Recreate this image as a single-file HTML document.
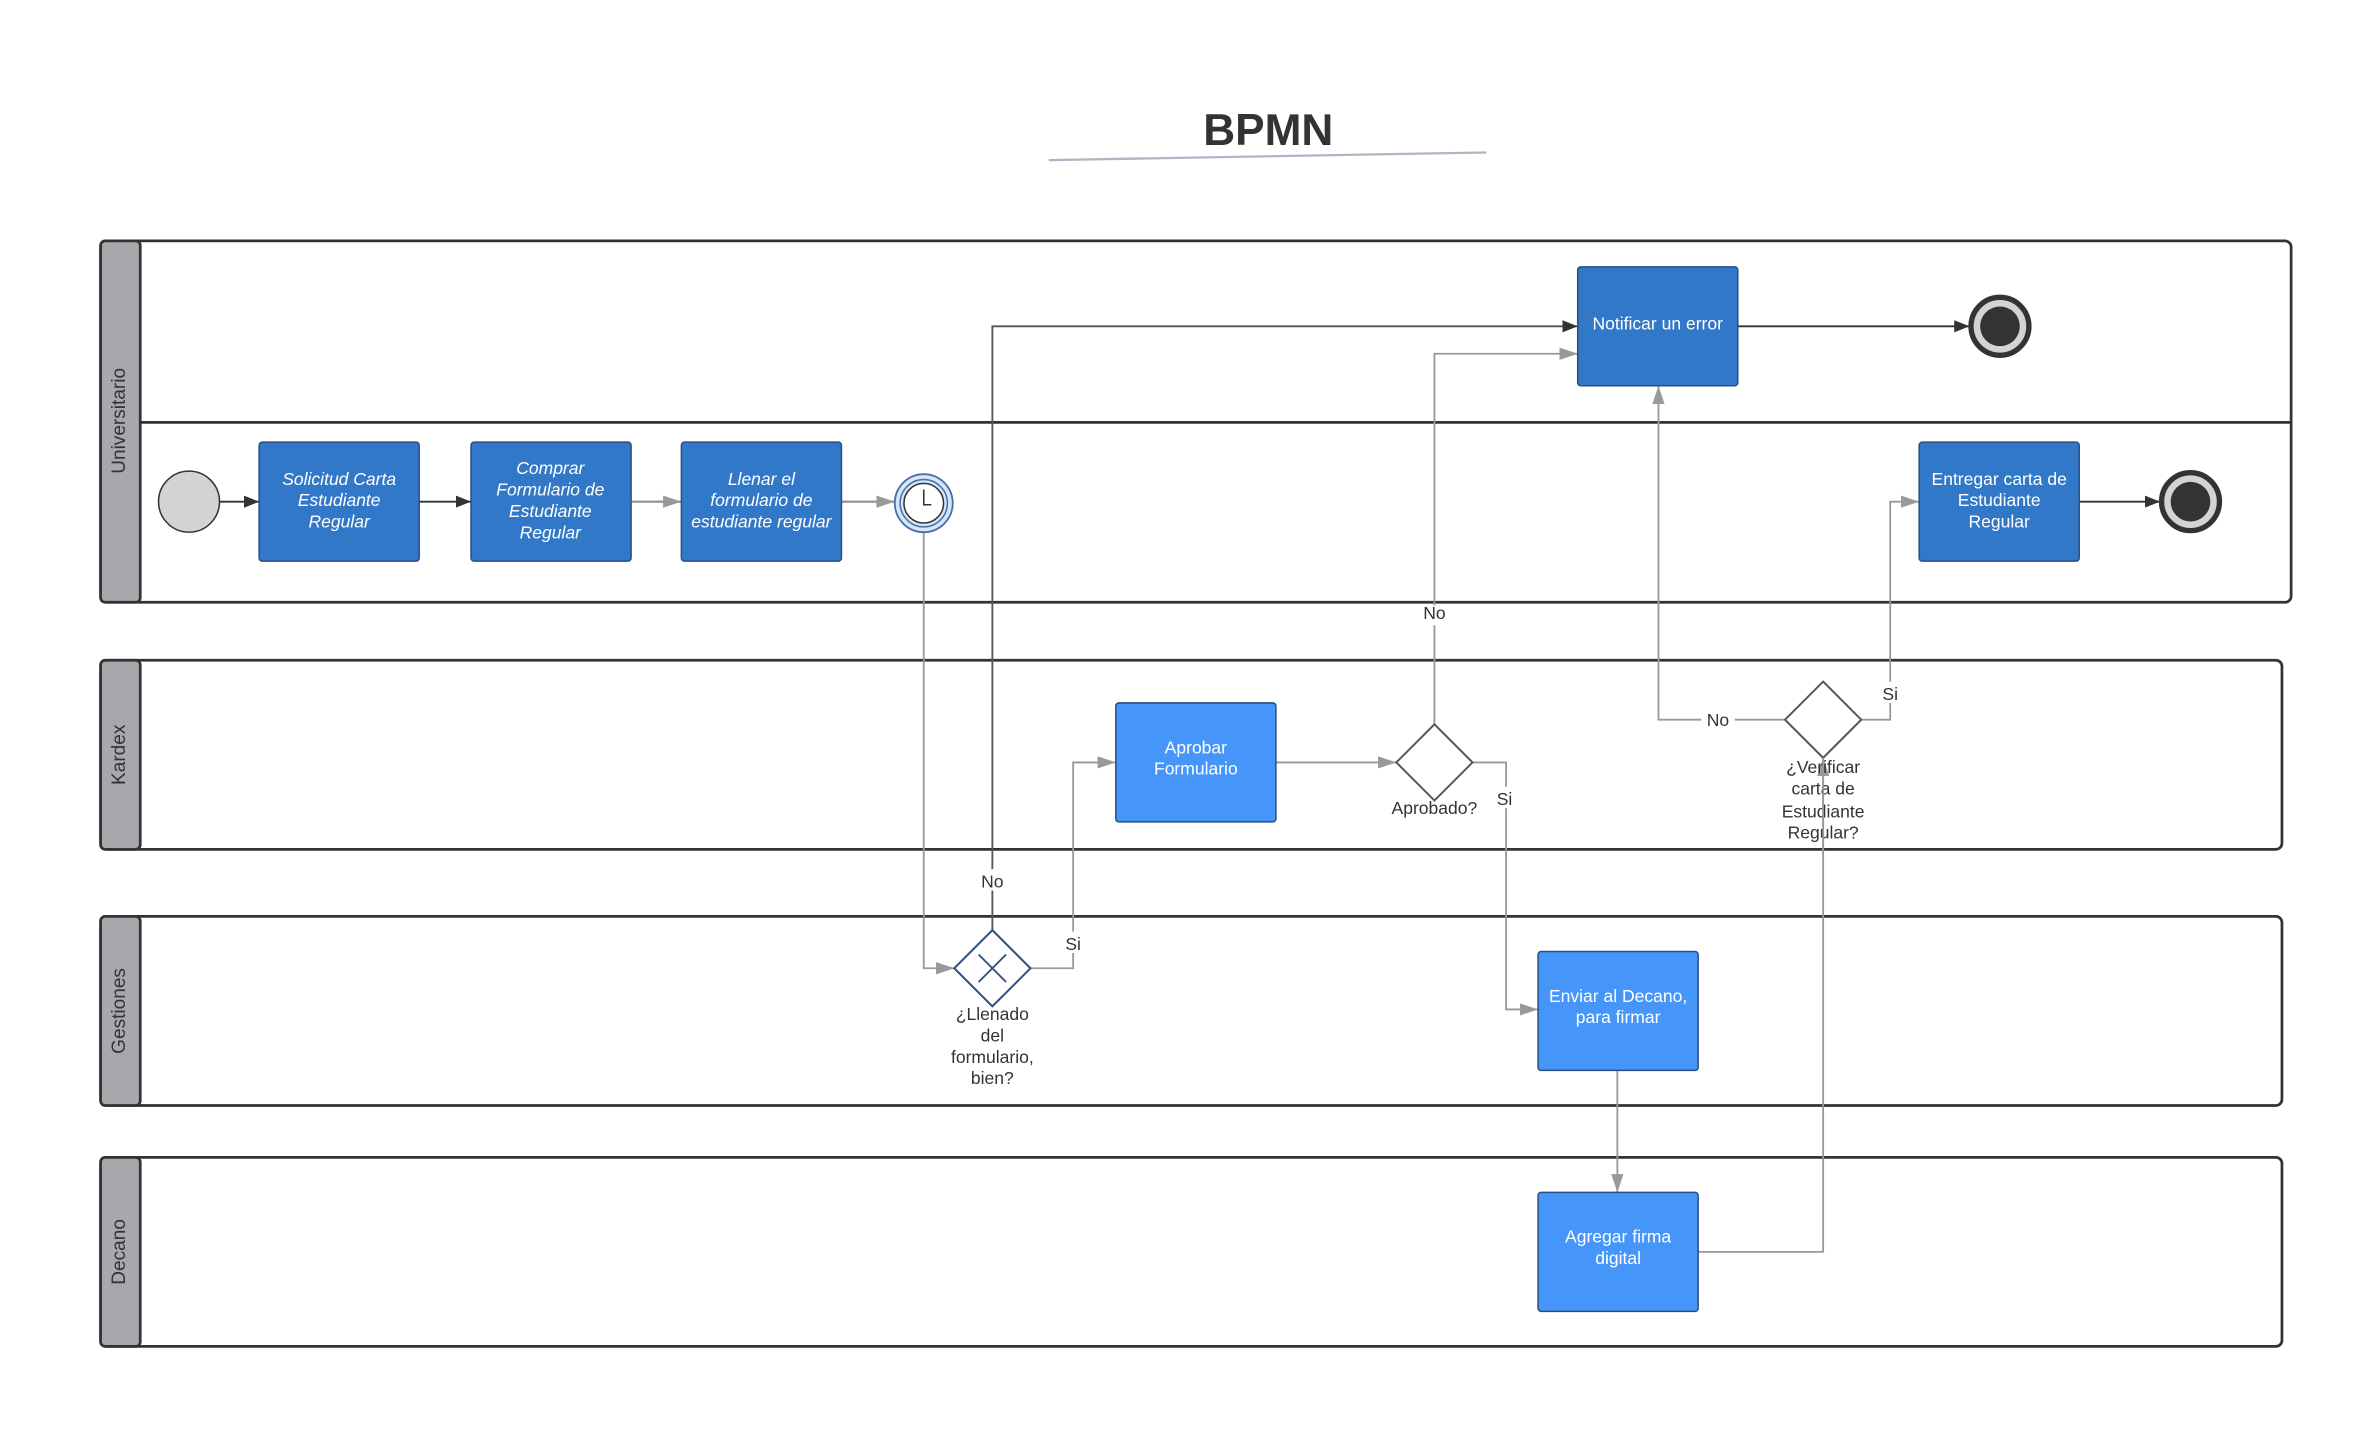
<!DOCTYPE html>
<html><head><meta charset="utf-8"><style>
html,body{margin:0;padding:0;background:#fff;width:2378px;height:1444px;overflow:hidden}
svg{display:block}
text{font-family:"Liberation Sans",sans-serif}
</style></head><body>
<svg width="2378" height="1444" viewBox="0 0 1560 947" preserveAspectRatio="none" xmlns="http://www.w3.org/2000/svg">
<defs>
<marker id="ab" markerWidth="10" markerHeight="8" refX="10" refY="4" orient="auto" markerUnits="userSpaceOnUse"><path d="M0,0 L10,4 L0,8 z" fill="#333"/></marker>
<marker id="ag" markerWidth="12" markerHeight="8" refX="12" refY="4" orient="auto" markerUnits="userSpaceOnUse"><path d="M0,0 L12,4 L0,8 z" fill="#999"/></marker>
</defs>
<text x="832" y="95" text-anchor="middle" font-size="29" font-weight="bold" fill="#333">BPMN</text>
<line x1="688" y1="105" x2="975" y2="100" stroke="#b0b4c4" stroke-width="1.5"/>

<g stroke="#333" stroke-width="1.8">
<rect x="66" y="158" width="1437" height="237" rx="4" fill="#fff"/>
<rect x="66" y="158" width="26" height="237" rx="3" fill="#a7a8ab"/>
<line x1="92" y1="277" x2="1503" y2="277"/>
<rect x="66" y="433" width="1431" height="124" rx="4" fill="#fff"/>
<rect x="66" y="433" width="26" height="124" rx="3" fill="#a7a8ab"/>
<rect x="66" y="601" width="1431" height="124" rx="4" fill="#fff"/>
<rect x="66" y="601" width="26" height="124" rx="3" fill="#a7a8ab"/>
<rect x="66" y="759" width="1431" height="124" rx="4" fill="#fff"/>
<rect x="66" y="759" width="26" height="124" rx="3" fill="#a7a8ab"/>
</g>
<g font-size="12.5" fill="#333" text-anchor="middle">
<text transform="translate(82,276) rotate(-90)">Universitario</text>
<text transform="translate(82,495) rotate(-90)">Kardex</text>
<text transform="translate(82,663) rotate(-90)">Gestiones</text>
<text transform="translate(82,821) rotate(-90)">Decano</text>
</g>

<g fill="none" stroke-width="1.2">
<line x1="144" y1="329" x2="170" y2="329" stroke="#333" marker-end="url(#ab)"/>
<line x1="275" y1="329" x2="309" y2="329" stroke="#333" marker-end="url(#ab)"/>
<line x1="414" y1="329" x2="447" y2="329" stroke="#999" stroke-width="1.6" marker-end="url(#ag)"/>
<line x1="552" y1="329" x2="587" y2="329" stroke="#999" stroke-width="1.6" marker-end="url(#ag)"/>
<path d="M606,349 V635 H626" stroke="#999" marker-end="url(#ag)"/>
<path d="M651,610 V214 H1035" stroke="#555" marker-end="url(#ab)"/>
<path d="M676,635 H704 V500 H732" stroke="#999" marker-end="url(#ag)"/>
<line x1="837" y1="500" x2="916" y2="500" stroke="#999" marker-end="url(#ag)"/>
<path d="M941,475 V232 H1035" stroke="#999" marker-end="url(#ag)"/>
<path d="M966,500 H988 V662 H1009" stroke="#999" marker-end="url(#ag)"/>
<line x1="1061" y1="702" x2="1061" y2="782" stroke="#999" marker-end="url(#ag)"/>
<path d="M1114,821 H1196 V497" stroke="#999" marker-end="url(#ag)"/>
<path d="M1171,472 H1088 V253" stroke="#999" marker-end="url(#ag)"/>
<path d="M1221,472 H1240 V329 H1259" stroke="#999" marker-end="url(#ag)"/>
<line x1="1140" y1="214" x2="1292" y2="214" stroke="#333" marker-end="url(#ab)"/>
<line x1="1364" y1="329" x2="1417" y2="329" stroke="#333" marker-end="url(#ab)"/>
</g>

<g font-size="11.5" fill="#333" text-anchor="middle">
<rect x="640" y="570" width="22" height="14" fill="#fff"/><text x="651" y="582">No</text>
<rect x="696" y="611" width="16" height="14" fill="#fff"/><text x="704" y="623">Si</text>
<rect x="930" y="397" width="22" height="13" fill="#fff"/><text x="941" y="406">No</text>
<rect x="980" y="516" width="16" height="14" fill="#fff"/><text x="987" y="528">Si</text>
<rect x="1116" y="464" width="22" height="14" fill="#fff"/><text x="1127" y="476">No</text>
<rect x="1232" y="447" width="16" height="14" fill="#fff"/><text x="1240" y="459">Si</text>
</g>

<circle cx="124" cy="329" r="20" fill="#d1d3d4" stroke="#333" stroke-width="1"/>
<circle cx="606" cy="330" r="19" fill="#d6e6fb" stroke="#4a6fa5" stroke-width="1.2"/>
<circle cx="606" cy="330" r="15.5" fill="none" stroke="#4a6fa5" stroke-width="1"/>
<circle cx="606" cy="330" r="13" fill="#fff" stroke="#333" stroke-width="1"/>
<path d="M606,321 V331 H611" fill="none" stroke="#333" stroke-width="1"/>
<circle cx="1312" cy="214" r="19" fill="#d1d3d4" stroke="#333" stroke-width="3.5"/>
<circle cx="1312" cy="214" r="13" fill="#333"/>
<circle cx="1437" cy="329" r="19" fill="#d1d3d4" stroke="#333" stroke-width="3.5"/>
<circle cx="1437" cy="329" r="13" fill="#333"/>

<g stroke="#2b4f80" stroke-width="1">
<rect x="170" y="290" width="105" height="78" rx="2" fill="#3278c8"/>
<rect x="309" y="290" width="105" height="78" rx="2" fill="#3278c8"/>
<rect x="447" y="290" width="105" height="78" rx="2" fill="#3278c8"/>
<rect x="1035" y="175" width="105" height="78" rx="2" fill="#3278c8"/>
<rect x="1259" y="290" width="105" height="78" rx="2" fill="#3278c8"/>
<rect x="732" y="461" width="105" height="78" rx="2" fill="#4596f8"/>
<rect x="1009" y="624" width="105" height="78" rx="2" fill="#4596f8"/>
<rect x="1009" y="782" width="105" height="78" rx="2" fill="#4596f8"/>
</g>
<g font-size="11.5" fill="#fff" text-anchor="middle">
<g font-style="italic">
<text x="222.5" y="318">Solicitud Carta</text><text x="222.5" y="332">Estudiante</text><text x="222.5" y="346">Regular</text>
<text x="361" y="311">Comprar</text><text x="361" y="325">Formulario de</text><text x="361" y="339">Estudiante</text><text x="361" y="353">Regular</text>
<text x="499.5" y="318">Llenar el</text><text x="499.5" y="332">formulario de</text><text x="499.5" y="346">estudiante regular</text>
</g>
<text x="1087.5" y="216">Notificar un error</text>
<text x="1311.5" y="318">Entregar carta de</text><text x="1311.5" y="332">Estudiante</text><text x="1311.5" y="346">Regular</text>
<text x="784.5" y="494">Aprobar</text><text x="784.5" y="508">Formulario</text>
<text x="1061.5" y="657">Enviar al Decano,</text><text x="1061.5" y="671">para firmar</text>
<text x="1061.5" y="815">Agregar firma</text><text x="1061.5" y="829">digital</text>
</g>

<g fill="#fff" stroke="#555" stroke-width="1.3">
<path d="M941,475 L966,500 L941,525 L916,500 z"/>
<path d="M1196,447 L1221,472 L1196,497 L1171,472 z"/>
</g>
<path d="M651,610 L676,635 L651,660 L626,635 z" fill="#fff" stroke="#2b4f80" stroke-width="1.3"/>
<path d="M642,626 L660,644 M660,626 L642,644" stroke="#2b4f80" stroke-width="1.2"/>
<g font-size="11.5" fill="#333" text-anchor="middle">
<text x="941" y="534">Aprobado?</text>
<text x="1196" y="507">¿Verificar</text><text x="1196" y="521">carta de</text><text x="1196" y="536">Estudiante</text><text x="1196" y="550">Regular?</text>
<text x="651" y="669">¿Llenado</text><text x="651" y="683">del</text><text x="651" y="697">formulario,</text><text x="651" y="711">bien?</text>
</g>
<line x1="1196" y1="497" x2="1196" y2="560" stroke="#999" stroke-width="1.2"/>
</svg>
</body></html>
